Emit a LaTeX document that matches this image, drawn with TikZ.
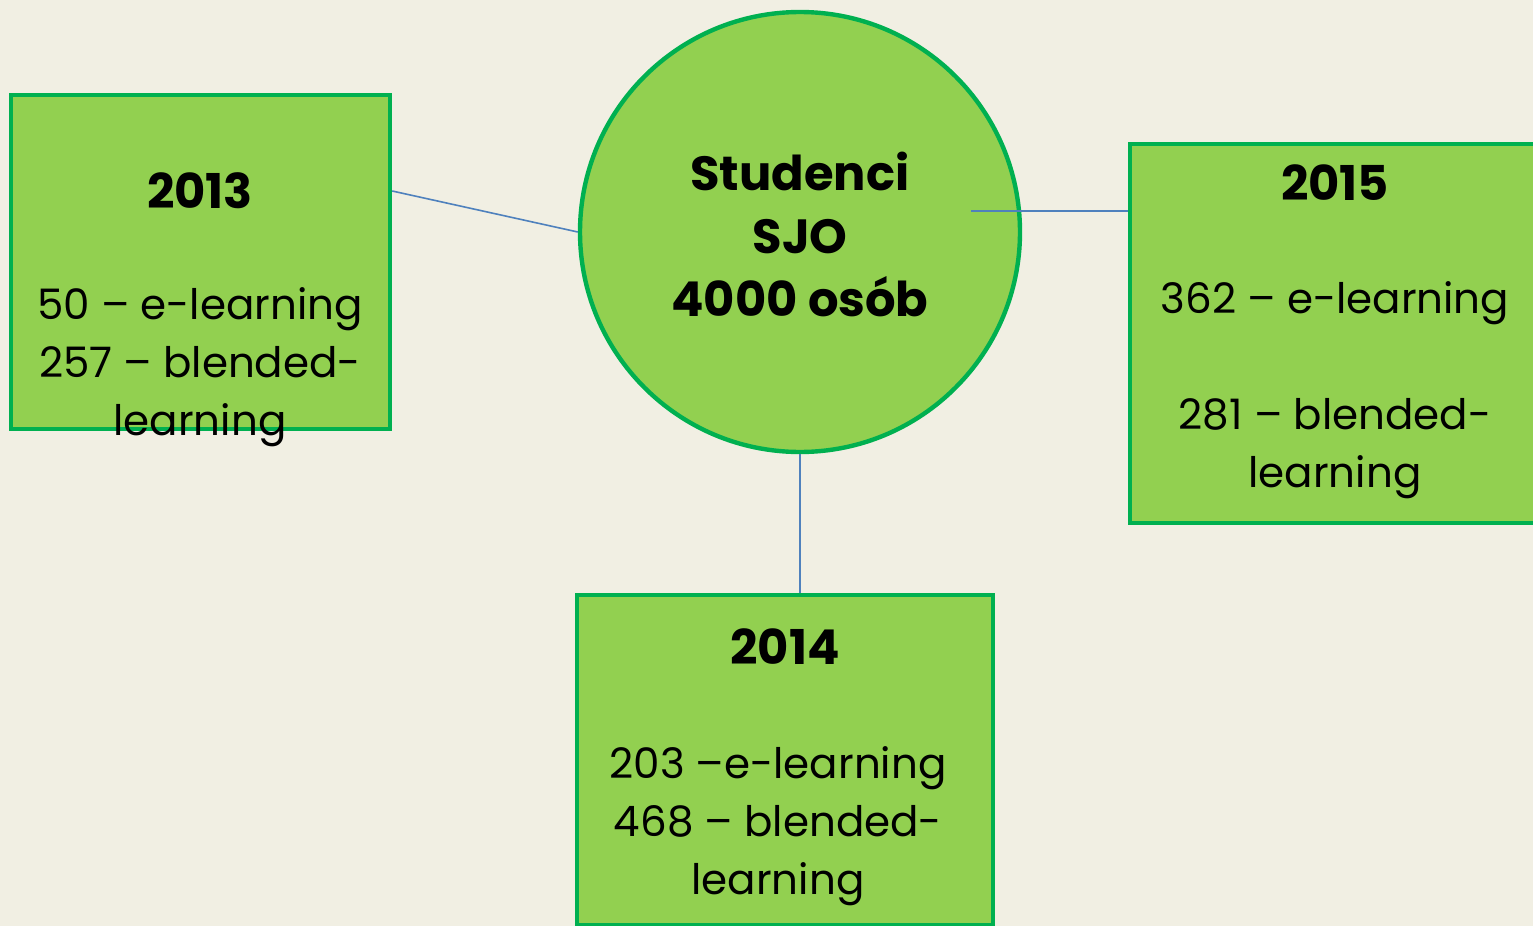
\documentclass[tikz,border=0pt]{standalone}
\usepackage{fontspec}
\setmainfont{Poppins}
\definecolor{bg}{HTML}{F1EFE3}
\definecolor{boxfill}{HTML}{92D050}
\definecolor{boxline}{HTML}{00B050}
\definecolor{conn}{HTML}{4F81BD}
\tikzset{
  yearbox/.style={draw=boxline, fill=boxfill, line width=2.2pt, rectangle, inner sep=0pt},
  hub/.style={draw=boxline, fill=boxfill, line width=2.2pt, circle, inner sep=0pt, minimum size=220pt},
  body/.style={align=center, font=\fontsize{21}{29}\selectfont, inner sep=0pt},
  yeartxt/.style={font=\fontsize{24}{29}\selectfont\bfseries, inner sep=0pt},
  hubtxt/.style={align=center, font=\fontsize{24}{31.5}\selectfont\bfseries, inner sep=0pt},
  link/.style={draw=conn, line width=0.8pt}
}
\begin{document}
\begin{tikzpicture}[x=0.5pt, y=-0.5pt]
\fill[bg] (0,0) rectangle (1533,926);
\useasboundingbox (0,0) rectangle (1533,926);
\node[yearbox, minimum width=189.5pt, minimum height=167pt] (b13) at (200.5,262) {};
\node[hub] (c) at (800,232) {};
\node[yearbox, minimum width=205pt, minimum height=189.5pt] (b15) at (1335,333.5) {};
\node[yearbox, minimum width=208pt, minimum height=165pt] (b14) at (785,760) {};
\draw[link] ([yshift=35.5pt]b13.east) -- (c.west);
\coordinate (c15) at (971,211);
\draw[link] (c15) -- (c15 -| b15.west);
\draw[link] (c.south) -- (c.south |- b14.north);
\node[yeartxt] (y13) at (200,191) {2013};
\node[body] (t13) at (200,367) {50 – e-learning\\257 – blended-\\learning};
\node[hubtxt] (ct) at (800,234) {Studenci\\SJO\\4000 osób};
\node[yeartxt] (y15) at (1335,183) {2015};
\node[body] (t15) at (1335,390) {362 – e-learning\\[29pt]281 – blended-\\learning};
\node[yeartxt] (y14) at (785,647) {2014};
\node[body] (t14) at (778,826) {203 –e-learning\\ 468 – blended-\\learning};
\end{tikzpicture}
\end{document}
